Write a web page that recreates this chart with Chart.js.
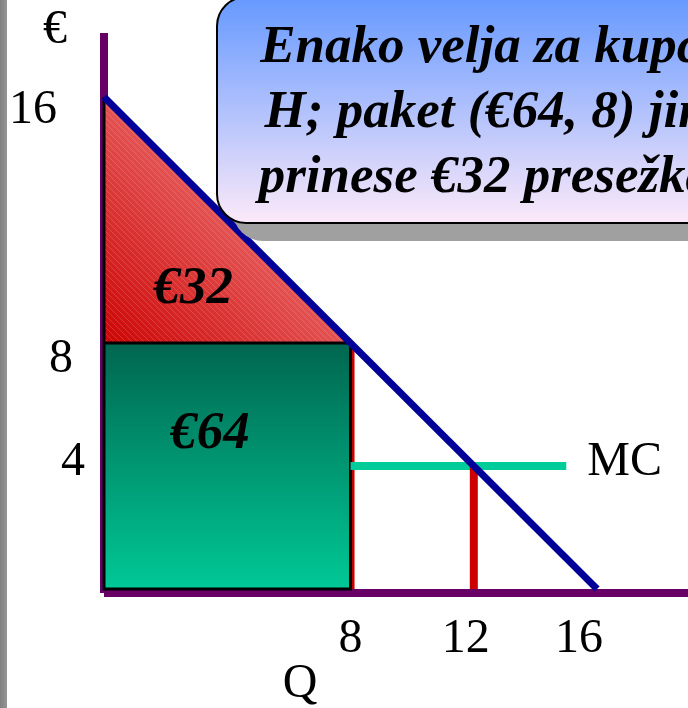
<!DOCTYPE html>
<html>
<head>
<meta charset="utf-8">
<script src="https://cdn.jsdelivr.net/npm/chart.js@4/dist/chart.umd.min.js"></script>
<style>
  html, body { margin: 0; padding: 0; background: #fff; overflow: hidden; }
  #wrap { position: relative; width: 688px; height: 708px; overflow: hidden; }
  #c { position: absolute; left: 0; top: 0; }
  #note {
    position: absolute; left: 216px; top: -4px; width: 552px; height: 228px;
    box-sizing: border-box; border: 2px solid #000; border-radius: 30px;
    box-shadow: 17px 17px 0 #a0a0a0;
    background: linear-gradient(#6699ff, #fbe9f9);
    font: italic bold 53px "Liberation Serif", "Times New Roman", serif;
    line-height: 65px; text-align: center; white-space: nowrap; color: #000;
    padding-top: 13.6px;
  }
</style>
</head>
<body>
<div id="wrap">
  <canvas id="c" width="688" height="708"></canvas>
  <div id="note"></div>
</div>
<script>
// Demand curve: price (€) against quantity
const demandQ = [0, 16];
const demandP = [16, 0];
// Package sold: quantity and per-unit price at that point on demand
const pkgQ = 8;
const pkgP = 8;
// Marginal cost line and the quantity where it meets demand
const mcP = 4;
const mcQ = [8, 15];
const effQ = 12;
// Axis tick labels
const yTicks = [16, 8, 4];
const xTicks = [8, 12, 16];

// Buyer surplus (triangle) and amount paid (rectangle)
const surplus = 0.5 * (demandP[0] - pkgP) * pkgQ;
const payment = pkgP * pkgQ;

const noteLines = [
  'Enako velja za kupce',
  `H; paket (€${payment}, ${pkgQ}) jim`,
  `prinese €${surplus} presežka.`
];
const note = document.getElementById('note');
noteLines.forEach((t, i) => {
  if (i) note.appendChild(document.createElement('br'));
  note.appendChild(document.createTextNode(t));
});

const pts = (xs, ys) => xs.map((x, i) => ({ x, y: ys[i] }));
const canvas = document.getElementById('c');
const g2d = canvas.getContext('2d');

// fine diagonal sheen over the surplus triangle
function stripePattern() {
  const p = document.createElement('canvas');
  p.width = p.height = 6;
  const c = p.getContext('2d');
  c.strokeStyle = 'rgba(255,255,255,0.16)';
  c.lineWidth = 1;
  c.beginPath();
  c.moveTo(-3, -3); c.lineTo(9, 9);
  c.moveTo(-6, 0); c.lineTo(6, 12);
  c.moveTo(0, -6); c.lineTo(12, 6);
  c.stroke();
  return g2d.createPattern(p, 'repeat');
}

function rectGradient(ctx) {
  const { chart } = ctx;
  if (!chart.chartArea) return '#009070';
  const y = chart.scales.y;
  const g = chart.ctx.createLinearGradient(0, y.getPixelForValue(pkgP), 0, y.getPixelForValue(0));
  g.addColorStop(0, '#00664f');
  g.addColorStop(1, '#00c896');
  return g;
}

function triGradient(ctx) {
  const { chart } = ctx;
  if (!chart.chartArea) return '#dd3333';
  const { x, y } = chart.scales;
  const x0 = x.getPixelForValue(0), y0 = y.getPixelForValue(pkgP);
  const x1 = x.getPixelForValue(pkgQ / 2), y1 = y.getPixelForValue((demandP[0] + pkgP) / 2);
  const g = chart.ctx.createLinearGradient(x0, y0, x1, y1);
  g.addColorStop(0, '#cc0404');
  g.addColorStop(1, '#e45454');
  return g;
}

const backdrop = {
  id: 'backdrop',
  beforeDraw(chart) {
    const c = chart.ctx;
    const g = c.createLinearGradient(0, 0, 7, 0);
    g.addColorStop(0, '#808080');
    g.addColorStop(1, '#959595');
    c.save();
    c.fillStyle = g;
    c.fillRect(0, 0, 7, chart.height);
    c.restore();
  }
};

const axes = {
  id: 'axes',
  beforeDatasetsDraw(chart) {
    const { ctx: c, chartArea: a, scales: { x, y } } = chart;
    const x0 = x.getPixelForValue(0), y0 = y.getPixelForValue(0);
    c.save();
    c.fillStyle = '#660066';
    c.fillRect(x0 - 4, a.top, 8, y0 + 4 - a.top);
    c.fillRect(x0, y0, a.right - x0, 8);
    c.restore();
  }
};

const labels = {
  id: 'labels',
  afterDatasetsDraw(chart) {
    const { ctx: c, chartArea: a, scales: { x, y } } = chart;
    const x0 = x.getPixelForValue(0), y0 = y.getPixelForValue(0);
    c.save();
    c.fillStyle = '#000';
    c.textBaseline = 'alphabetic';
    c.font = '48px "Liberation Serif", "Times New Roman", serif';

    // price ticks, set against the vertical axis
    const yNudge = { 16: [-47, 26], 8: [-31, 29], 4: [-19, 9] };
    c.textAlign = 'right';
    yTicks.forEach(v => {
      const [dx, dy] = yNudge[v] || [-25, 16];
      c.fillText(String(v), x0 + dx, y.getPixelForValue(v) + dy);
    });

    // quantity ticks below the horizontal axis
    const xNudge = { 8: 0, 12: -8, 16: -18 };
    c.textAlign = 'center';
    xTicks.forEach(v => {
      c.fillText(String(v), x.getPixelForValue(v) + (xNudge[v] || 0), y0 + 63);
    });

    // axis names
    c.fillText('€', x0 - 49, a.top + 10);
    c.fillText('Q', x0 + 196, y0 + 108);

    // MC label at the end of the cost line
    c.textAlign = 'left';
    c.fillText('MC', x.getPixelForValue(mcQ[1]) + 21, y.getPixelForValue(mcP) + 9);

    // area values
    c.font = 'italic bold 53px "Liberation Serif", "Times New Roman", serif';
    c.textAlign = 'center';
    c.fillText('€' + surplus, x.getPixelForValue(2.9), y.getPixelForValue(9.3));
    c.fillText('€' + payment, x.getPixelForValue(3.44), y.getPixelForValue(4.59));
    c.restore();
  }
};

const line = (data, extra) => Object.assign({
  data, showLine: true, pointRadius: 0, borderWidth: 0, fill: false,
  borderCapStyle: 'butt', borderJoinStyle: 'miter', tension: 0, clip: false
}, extra);

new Chart(canvas, {
  type: 'line',
  data: {
    datasets: [
      // index 0 is drawn on top
      line(pts(demandQ, demandP), { label: 'Povpraševanje', borderColor: '#000099', borderWidth: 7 }),
      line([{ x: effQ, y: 0 }, { x: effQ, y: mcP }], { label: 'Q*', borderColor: '#cc0000', borderWidth: 8 }),
      line(mcQ.map(q => ({ x: q, y: mcP })), { label: 'MC', borderColor: '#00cc99', borderWidth: 8 }),
      line([{ x: 0, y: demandP[0] }, { x: 0, y: 0 }, { x: pkgQ, y: 0 }, { x: pkgQ, y: pkgP }, { x: 0, y: pkgP }],
           { label: 'obroba', borderColor: '#000', borderWidth: 3 }),
      line([{ x: 0, y: pkgP }, { x: pkgQ, y: pkgP }], { label: 'plačilo', fill: 'origin', backgroundColor: rectGradient }),
      line([{ x: pkgQ, y: 0 }, { x: pkgQ, y: pkgP }], { label: 'paket', borderColor: '#cc0000', borderWidth: 8 }),
      line([{ x: 0, y: demandP[0] }, { x: pkgQ, y: pkgP }], { label: 'tekstura', fill: { value: pkgP }, backgroundColor: stripePattern() }),
      line([{ x: 0, y: demandP[0] }, { x: pkgQ, y: pkgP }], { label: 'presežek', fill: { value: pkgP }, backgroundColor: triGradient })
    ]
  },
  options: {
    responsive: false,
    animation: false,
    devicePixelRatio: 1,
    layout: { padding: { left: 104, top: 33, right: 0, bottom: 119 } },
    scales: {
      x: { type: 'linear', min: 0, max: 18.95, display: false },
      y: { type: 'linear', min: 0, max: 18.08, display: false }
    },
    plugins: { legend: { display: false }, tooltip: { enabled: false } }
  },
  plugins: [backdrop, axes, labels]
});
</script>
</body>
</html>
